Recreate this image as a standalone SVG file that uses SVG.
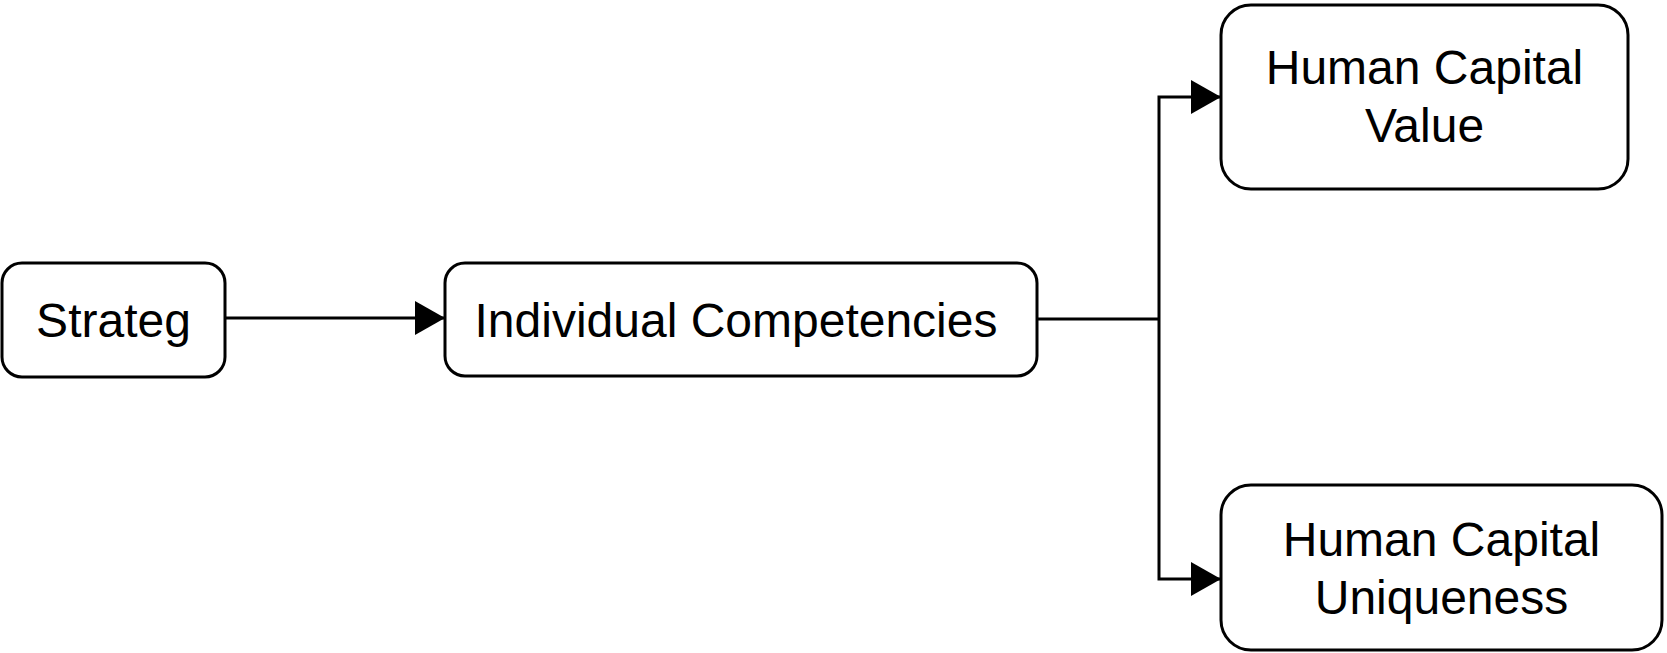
<svg xmlns="http://www.w3.org/2000/svg" width="1667" height="653" viewBox="0 0 1667 653">
  <style>
    .box { fill: #ffffff; stroke: #000000; stroke-width: 3; }
    .lbl { font-family: "Liberation Sans", Arial, Helvetica, sans-serif; font-size: 48px; fill: #000000; text-anchor: middle; }
    .conn { fill: none; stroke: #000000; stroke-width: 3; }
  </style>
  <defs>
    <marker id="arrow" markerUnits="userSpaceOnUse" viewBox="0 0 30 34" refX="30" refY="17" markerWidth="30" markerHeight="34" orient="auto">
      <path d="M0,0 L30,17 L0,34 Z" fill="#000000"/>
    </marker>
  </defs>
  <rect width="1667" height="653" fill="#ffffff"/>
  <g id="connectors">
    <path class="conn" d="M225,318 L445,318" marker-end="url(#arrow)"/>
    <path class="conn" d="M1037,319 L1159,319"/>
    <path class="conn" d="M1159,319 L1159,97 L1221,97" marker-end="url(#arrow)"/>
    <path class="conn" d="M1159,319 L1159,579 L1221,579" marker-end="url(#arrow)"/>
  </g>
  <g id="node-strateg">
    <rect class="box" x="2" y="263" width="223" height="114" rx="20" ry="20"/>
    <text class="lbl" x="113.5" y="337">Strateg</text>
  </g>
  <g id="node-individual">
    <rect class="box" x="445" y="263" width="592" height="113" rx="20" ry="20"/>
    <text class="lbl" x="736" y="337">Individual Competencies</text>
  </g>
  <g id="node-hc-value">
    <rect class="box" x="1221" y="5" width="407" height="184" rx="30" ry="30"/>
    <text class="lbl" x="1424.5" y="84">Human Capital</text>
    <text class="lbl" x="1424.5" y="142">Value</text>
  </g>
  <g id="node-hc-uniqueness">
    <rect class="box" x="1221" y="485" width="441" height="165" rx="30" ry="30"/>
    <text class="lbl" x="1441.5" y="556">Human Capital</text>
    <text class="lbl" x="1441.5" y="614">Uniqueness</text>
  </g>
</svg>
